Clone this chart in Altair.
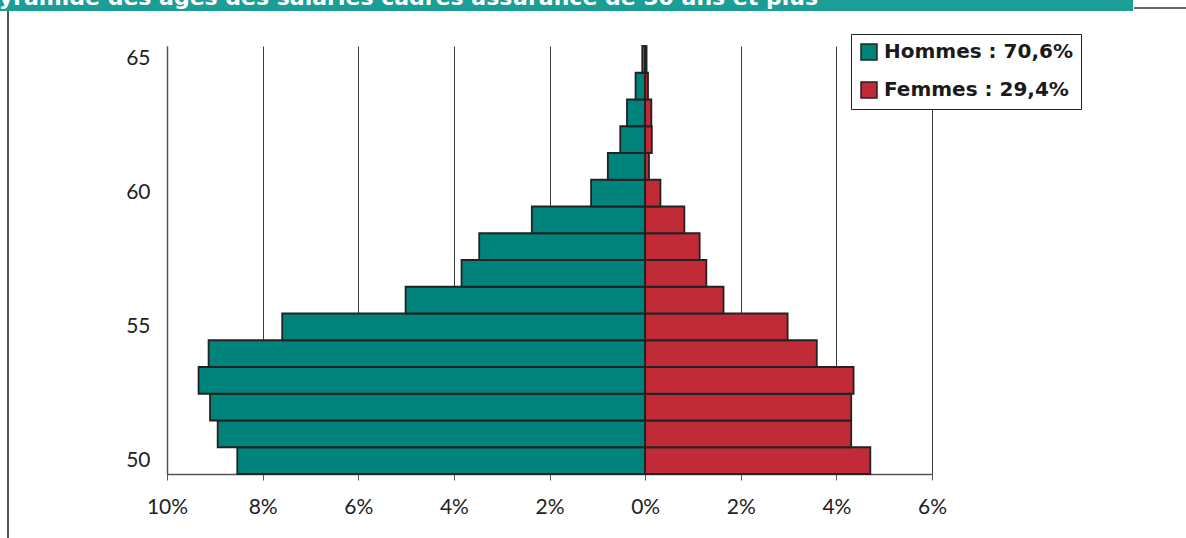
import altair as alt
import pandas as pd

# Age pyramid of insurance executives aged 50 and over (share of the total, in %)
ages = list(range(50, 66))
hommes = [8.53, 8.94, 9.10, 9.34, 9.13, 7.59, 5.01, 3.84, 3.47, 2.37, 1.13, 0.78, 0.52, 0.38, 0.20, 0.06]
femmes = [4.71, 4.31, 4.31, 4.36, 3.59, 2.98, 1.64, 1.28, 1.14, 0.82, 0.32, 0.08, 0.14, 0.13, 0.06, 0.03]
series = ["Hommes : 70,6%", "Femmes : 29,4%"]
colors = ["#00837B", "#C12B37"]
x_ticks = [-10, -8, -6, -4, -2, 0, 2, 4, 6]
y_labels = [50, 55, 60, 65]
title_text = "Pyramide des âges des salariés cadres assurance de 50 ans et plus"

rows = []
for a, h, f in zip(ages, hommes, femmes):
    rows.append({"age": a, "sexe": series[0], "part": -h})
    rows.append({"age": a, "sexe": series[1], "part": f})
df = pd.DataFrame(rows)

W, H = 765, 428
PAD = {"left": 167, "top": 46, "right": 254, "bottom": 64}

bars = alt.Chart(df).mark_bar(stroke="#222222", strokeWidth=1.8).encode(
    x=alt.X(
        "part:Q",
        scale=alt.Scale(domain=[-10, 6], nice=False, zero=False),
        axis=alt.Axis(
            values=x_ticks,
            labelExpr="abs(datum.value) + '%'",
            labelFlush=False,
            title=None,
            grid=True,
            gridColor="#3a3a3a",
            gridWidth=1,
            domainColor="#555555",
            domainWidth=1.5,
            tickColor="#555555",
            tickSize=6,
            labelPadding=16,
            labelFont="Lato",
            labelFontSize=21,
            labelColor="#222222",
        ),
    ),
    y=alt.Y(
        "age:O",
        sort="descending",
        scale=alt.Scale(paddingInner=0, paddingOuter=0),
        axis=alt.Axis(
            values=y_labels,
            title=None,
            ticks=False,
            domainColor="#555555",
            domainWidth=1.5,
            labelPadding=17,
            labelFont="Lato",
            labelFontSize=21,
            labelColor="#222222",
        ),
    ),
    color=alt.Color(
        "sexe:N",
        scale=alt.Scale(domain=series, range=colors),
        legend=alt.Legend(
            title=None,
            orient="none",
            legendX=684,
            legendY=-12,
            fillColor="white",
            strokeColor="#222222",
            padding=8,
            symbolType="square",
            symbolSize=256,
            symbolStrokeColor="#222222",
            symbolStrokeWidth=1.5,
            symbolOpacity=1,
            labelFont="DejaVu Sans",
            labelFontWeight="bold",
            labelFontSize=20,
            labelColor="#1a1a1a",
            labelLimit=400,
            labelOffset=5,
            rowPadding=16,
        ),
    ),
)

one = alt.Data(values=[{}])

# Header banner and frame lines around the figure
banner = alt.Chart(one).mark_rect(color="#1A9E96").encode(
    x=alt.value(-PAD["left"]), x2=alt.value(1133 - PAD["left"]),
    y=alt.value(-PAD["top"]), y2=alt.value(11 - PAD["top"]),
)
banner_text = alt.Chart(one).mark_text(
    align="right", baseline="alphabetic", color="white",
    font="DejaVu Sans", fontWeight="bold", fontSize=22,
).encode(
    x=alt.value(818 - PAD["left"]), y=alt.value(5 - PAD["top"]),
    text=alt.value(title_text),
)
left_rule = alt.Chart(one).mark_rule(color="#555555", strokeWidth=2).encode(
    x=alt.value(8 - PAD["left"]),
    y=alt.value(11 - PAD["top"]), y2=alt.value(538 - PAD["top"]),
)
top_rule = alt.Chart(one).mark_rule(color="#666666", strokeWidth=2).encode(
    x=alt.value(1134 - PAD["left"]), x2=alt.value(1186 - PAD["left"]),
    y=alt.value(8 - PAD["top"]),
)

chart = alt.layer(bars, banner, banner_text, left_rule, top_rule).properties(
    width=W,
    height=H,
    padding=PAD,
    autosize=alt.AutoSizeParams(type="none"),
    background="white",
).configure_view(strokeWidth=0)

chart.save("out.html", embed_options={"renderer": "svg", "actions": False})
